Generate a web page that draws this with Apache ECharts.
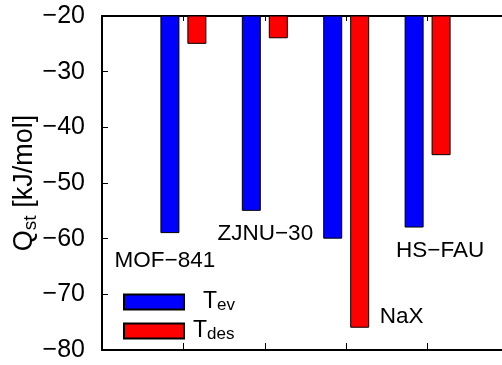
<!DOCTYPE html>
<html><head><meta charset="utf-8">
<script src="https://cdn.jsdelivr.net/npm/echarts@6/dist/echarts.min.js"></script>
<style>html,body{margin:0;padding:0;background:#fff}#c{width:502px;height:365px}</style>
</head><body><div id="c"></div>
<script>
// ---- data ----
const categories = ['MOF-841', 'ZJNU-30', 'NaX', 'HS-FAU'];
const tevValues = [-59, -55, -60, -58];
const tdesValues = [-25, -24, -76, -45];
const yTickValues = [-80, -70, -60, -50, -40, -30, -20];
const seriesNames = ['T_ev', 'T_des'];
// which series carries each category's label (0 = T_ev, 1 = T_des)
const labelSeries = [0, 0, 1, 0];

// ---- styling ----
const FONT = '"Liberation Sans", Arial, Helvetica, sans-serif';
const labelOffsets = [[-5, 11], [14, 6], [42, -27], [26, 7]];
const toMinus = s => String(s).replace(/-/g, '\u2212');

const axisCats = [''].concat(categories, ['']);
function buildData(values, sIdx) {
  const d = [null];
  values.forEach((v, i) => {
    const item = { value: v };
    if (labelSeries[i] === sIdx) {
      item.label = {
        show: true, position: 'bottom', distance: 5,
        offset: labelOffsets[i], formatter: toMinus(categories[i]),
        color: '#000', fontSize: 22.5, fontFamily: FONT
      };
    }
    d.push(item);
  });
  d.push(null);
  return d;
}

const axisLineStyle = { color: '#000', width: 2 };
const chart = echarts.init(document.getElementById('c'), null, { renderer: 'canvas' });
chart.setOption({
  animation: false,
  backgroundColor: '#fff',
  grid: { left: 102, width: 407, top: 16, bottom: 15, containLabel: false, outerBoundsMode: 'none' },
  xAxis: [
    { type: 'category', data: axisCats, boundaryGap: false, position: 'bottom',
      axisLine: { show: true, lineStyle: axisLineStyle },
      axisTick: { show: true, inside: true, length: 7, lineStyle: { color: '#000', width: 1 } },
      axisLabel: { show: false }, splitLine: { show: false } },
    { type: 'category', data: axisCats, boundaryGap: false, position: 'top',
      axisLine: { show: true, lineStyle: axisLineStyle },
      axisTick: { show: true, inside: true, length: 5, lineStyle: { color: '#000', width: 1 } },
      axisLabel: { show: false }, splitLine: { show: false } }
  ],
  yAxis: {
    type: 'value', min: yTickValues[0], max: yTickValues[yTickValues.length - 1], interval: 10,
    axisLine: { show: true, lineStyle: axisLineStyle },
    axisTick: { show: true, inside: true, length: 6, lineStyle: { color: '#000', width: 1 } },
    splitLine: { show: false },
    axisLabel: { color: '#000', fontSize: 25, fontFamily: FONT, margin: 17, formatter: v => toMinus(v) },
    name: '{q|Q}{s|st}{q| [kJ/mol]}',
    nameLocation: 'middle', nameGap: 62, nameRotate: 90, nameMoveOverlap: false,
    nameTextStyle: {
      color: '#000', fontFamily: FONT,
      rich: {
        q: { fontSize: 27, fontFamily: FONT, color: '#000', lineHeight: 30 },
        s: { fontSize: 19, fontFamily: FONT, color: '#000', verticalAlign: 'bottom', lineHeight: 20 }
      }
    }
  },
  legend: {
    left: 123, top: 290, orient: 'vertical', itemWidth: 60, itemHeight: 15, itemGap: 2,
    padding: 0, icon: 'rect',
    data: seriesNames,
    formatter: n => n === 'T_ev' ? '{a1|T}{b|ev}' : '{a2|T}{b|des}',
    textStyle: {
      color: '#000', fontFamily: FONT,
      rich: {
        a1: { fontSize: 23, fontFamily: FONT, color: '#000', lineHeight: 24, verticalAlign: 'top', padding: [0, 0, 4, 14] },
        a2: { fontSize: 23, fontFamily: FONT, color: '#000', lineHeight: 24, verticalAlign: 'top', padding: [0, 0, 4, 4] },
        b: { fontSize: 17, fontFamily: FONT, color: '#000', lineHeight: 18, verticalAlign: 'bottom' }
      }
    }
  },
  series: [
    { name: seriesNames[0], type: 'bar', data: buildData(tevValues, 0), barWidth: 19, barGap: '42%',
      itemStyle: { color: '#0000ff', borderColor: '#000', borderWidth: 1 } },
    { name: seriesNames[1], type: 'bar', data: buildData(tdesValues, 1), barWidth: 19, barGap: '42%',
      itemStyle: { color: '#ff0000', borderColor: '#000', borderWidth: 1 } }
  ]
});
</script></body></html>
